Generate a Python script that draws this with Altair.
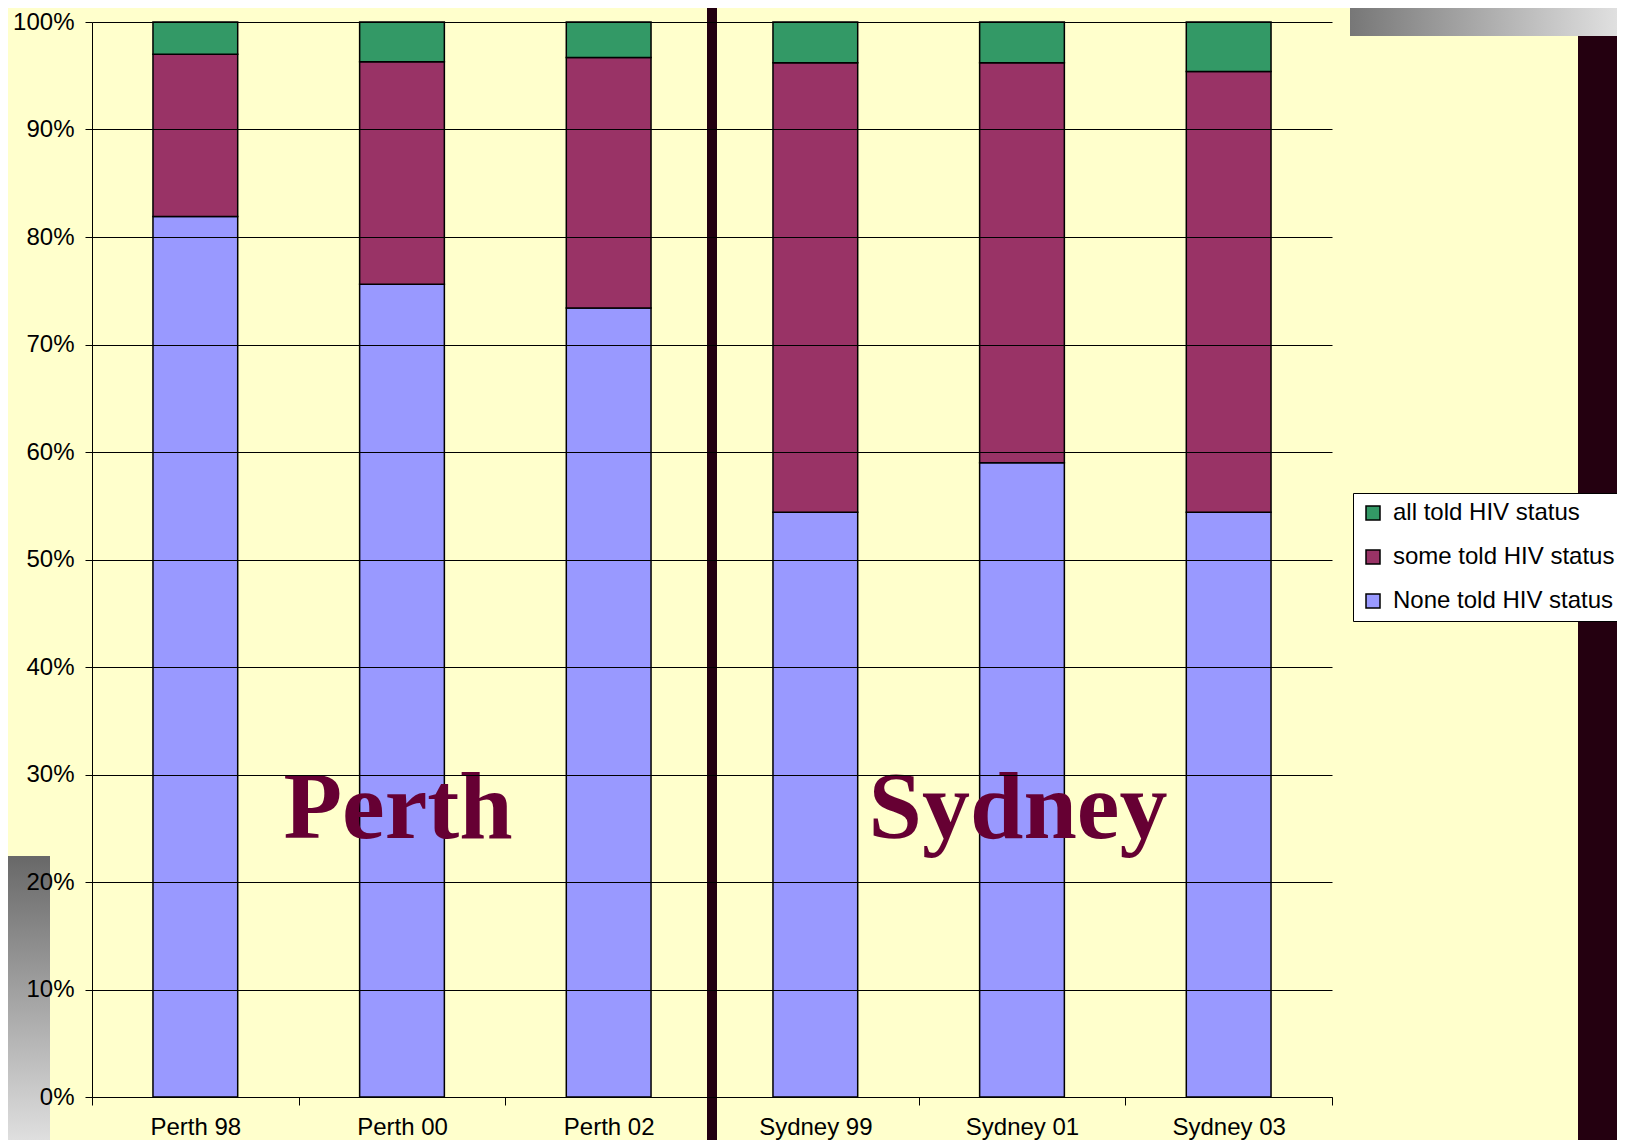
import altair as alt
import pandas as pd

# ---- data ----
categories = ["Perth 98", "Perth 00", "Perth 02", "Sydney 99", "Sydney 01", "Sydney 03"]
statuses = ["all told HIV status", "some told HIV status", "None told HIV status"]
none_told = [81.9, 75.6, 73.4, 54.4, 59.0, 54.4]
some_told = [15.1, 20.7, 23.3, 41.8, 37.2, 41.0]
all_told = [3.0, 3.7, 3.3, 3.8, 3.8, 4.6]
stack_rank = {"None told HIV status": 0, "some told HIV status": 1, "all told HIV status": 2}
colors = ["#339966", "#993366", "#9999FF"]
y_ticks = [0, 0.1, 0.2, 0.3, 0.4, 0.5, 0.6, 0.7, 0.8, 0.9, 1.0]
city_names = ["Perth", "Sydney"]
city_anchor = ["Perth 00", "Sydney 01"]
city_level = [0.241, 0.241]
separator_at = ["Sydney 99"]

rows = []
for i, c in enumerate(categories):
    for s, vals in (("None told HIV status", none_told),
                    ("some told HIV status", some_told),
                    ("all told HIV status", all_told)):
        rows.append({"cat": c, "status": s, "value": vals[i] / 100.0, "rank": stack_rank[s]})
df = pd.DataFrame(rows)
cities = pd.DataFrame({"cat": city_anchor, "city": city_names, "pos": city_level})
sep = pd.DataFrame({"cat": separator_at})
dummy = pd.DataFrame({"k": [1]})

FONT = "Liberation Sans"
xscale = alt.Scale(domain=categories, paddingInner=0, paddingOuter=0)
yscale = alt.Scale(domain=[0, 1], nice=False)

# ---- slide decorations (background) ----
grey_h = alt.LinearGradient(gradient="linear", x1=0, x2=1, y1=0, y2=0,
                            stops=[alt.GradientStop(offset=0, color="#777777"),
                                   alt.GradientStop(offset=1, color="#e2e2e2")])
grey_v = alt.LinearGradient(gradient="linear", x1=0, x2=0, y1=0, y2=1,
                            stops=[alt.GradientStop(offset=0, color="#686868"),
                                   alt.GradientStop(offset=1, color="#e8e8e8")])
deco_top = alt.Chart(dummy).mark_rect(fill=grey_h).encode(
    x=alt.value(1258), x2=alt.value(1530), y=alt.value(-22), y2=alt.value(14))
deco_left = alt.Chart(dummy).mark_rect(fill=grey_v).encode(
    x=alt.value(-100), x2=alt.value(-42), y=alt.value(834), y2=alt.value(1140))
deco_right = alt.Chart(dummy).mark_rect(fill="#240010").encode(
    x=alt.value(1486), x2=alt.value(1530), y=alt.value(14), y2=alt.value(1140))

bars = alt.Chart(df).mark_bar(width=alt.RelativeBandSize(0.41), stroke="black", strokeWidth=1.5).encode(
    x=alt.X("cat:N", scale=xscale, sort=categories,
            axis=alt.Axis(title=None, labelAngle=0, tickBand="extent", tickSize=8,
                          tickColor="black", domainColor="black", labelFont=FONT,
                          labelFontSize=24, labelColor="black", labelPadding=10, grid=False)),
    y=alt.Y("value:Q", stack="zero", scale=yscale,
            axis=alt.Axis(title=None, values=y_ticks, format=".0%", grid=True,
                          gridColor="black", gridWidth=1, gridOpacity=1,
                          domainColor="black", tickColor="black", tickSize=7,
                          labelPadding=11, labelFont=FONT, labelFontSize=24,
                          labelColor="black", zindex=1)),
    color=alt.Color("status:N", scale=alt.Scale(domain=statuses, range=colors),
                    legend=alt.Legend(title=None, orient="none", legendX=1261, legendY=471,
                                      fillColor="white", strokeColor="black", padding=8,
                                      symbolType="square", symbolSize=196,
                                      symbolStrokeColor="black", symbolStrokeWidth=1.5,
                                      symbolOpacity=1, labelFont=FONT, labelFontSize=24,
                                      labelColor="black", rowPadding=20, labelOffset=8,
                                      labelLimit=0)),
    order=alt.Order("rank:Q", sort="ascending"),
)

separator = alt.Chart(sep).mark_rule(color="#220011", strokeWidth=10).encode(
    x=alt.X("cat:N", scale=xscale, bandPosition=0),
    y=alt.value(-22), y2=alt.value(1140))

labels = alt.Chart(cities).mark_text(font="Liberation Serif", fontWeight="bold", fontSize=96,
                                     color="#660033", baseline="alphabetic", align="center",
                                     dx=-4).encode(
    x=alt.X("cat:N", scale=xscale),
    y=alt.Y("pos:Q", scale=yscale),
    text="city:N")

chart = alt.layer(deco_top, deco_left, deco_right, bars, separator, labels).properties(
    width=1240, height=1075,
    autosize=alt.AutoSizeParams(type="none"),
    padding={"left": 84, "top": 14, "right": 285, "bottom": 43},
    background="#FFFFCC",
).configure_view(strokeWidth=0)

chart.save("out.html", embed_options={"renderer": "svg", "actions": False})
